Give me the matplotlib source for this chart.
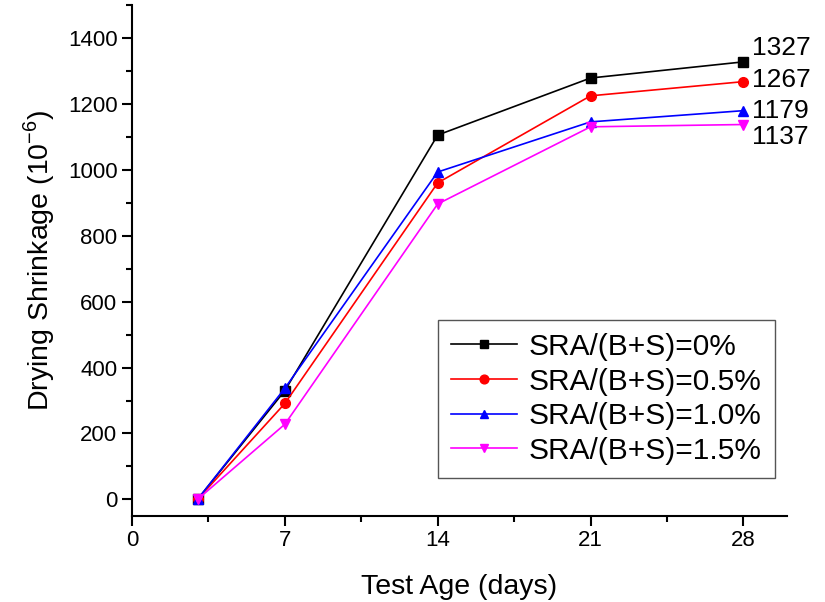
import matplotlib.pyplot as plt
from matplotlib.ticker import MultipleLocator

plt.rcParams['font.family'] = ['Liberation Sans', 'DejaVu Sans']

ages = [3, 7, 14, 21, 28]
sra_0 = [0, 330, 1105, 1278, 1327]
sra_05 = [0, 291, 960, 1224, 1267]
sra_10 = [0, 337, 993, 1145, 1179]
sra_15 = [0, 228, 896, 1130, 1137]
labels = ["SRA/(B+S)=0%", "SRA/(B+S)=0.5%", "SRA/(B+S)=1.0%", "SRA/(B+S)=1.5%"]
end_labels = ["1327", "1267", "1179", "1137"]

series = [sra_0, sra_05, sra_10, sra_15]
colors = ["black", "red", "blue", "magenta"]
markers = ["s", "o", "^", "v"]

fig = plt.figure(figsize=(8.25, 6.02), dpi=100)
ax = fig.add_axes([0.16, 0.143, 0.794, 0.849])

for vals, c, m, lab in zip(series, colors, markers, labels):
    ax.plot(ages, vals, color=c, marker=m, markersize=7, linewidth=1.2, label=lab)

# values at 28 days
offsets = [(6, 10), (6, 1), (6, 0), (6, -9)]
for vals, txt, off in zip(series, end_labels, offsets):
    ax.annotate(txt, (ages[-1], vals[-1]), xytext=off, textcoords="offset points",
                fontsize=19, va="center", ha="left")

ax.set_xlim(0, 30)
ax.set_ylim(-50, 1500)
ax.set_xticks([0, 7, 14, 21, 28])
ax.xaxis.set_minor_locator(MultipleLocator(3.5))
ax.set_yticks(range(0, 1401, 200))
ax.yaxis.set_minor_locator(MultipleLocator(100))

ax.spines["top"].set_visible(False)
ax.spines["right"].set_visible(False)
for s in ["left", "bottom"]:
    ax.spines[s].set_linewidth(1.5)
ax.tick_params(which="major", direction="out", length=7, width=1.5, labelsize=16)
ax.tick_params(which="minor", direction="out", length=4, width=1.5)

ax.set_xlabel("Test Age (days)", fontsize=20.5, labelpad=16)
ax.set_ylabel("Drying Shrinkage (10$^{\\mathregular{-6}}$)", fontsize=20.5, labelpad=8)

leg = ax.legend(loc="lower right", bbox_to_anchor=(0.982, 0.074), borderaxespad=0,
                fontsize=21.5, fancybox=False, edgecolor="#555555", framealpha=1,
                handlelength=2.2, handletextpad=0.4, borderpad=0.45, labelspacing=0.22,
                markerscale=0.9)
leg.get_frame().set_linewidth(1.0)

fig.savefig("out.png", dpi=100)
